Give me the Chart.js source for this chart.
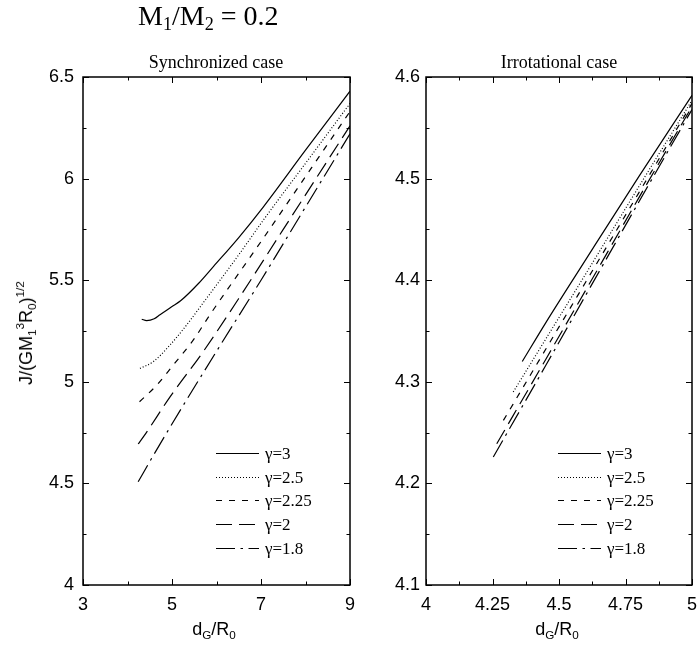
<!DOCTYPE html>
<html>
<head>
<meta charset="utf-8">
<script src="https://cdn.jsdelivr.net/npm/chart.js@4.4.0/dist/chart.umd.min.js"></script>
<style>
  body { margin: 0; background: #fff; }
  #wrap { position: relative; width: 697px; height: 648px; overflow: hidden; }
  .box { position: absolute; top: 0; height: 648px; }
  .serif, .sans { position: absolute; white-space: nowrap; color: #000; line-height: 1; }
  .serif { font-family: "Liberation Serif", "Times New Roman", serif; }
  .sans { font-family: "Liberation Sans", Arial, sans-serif; }
  sub { font-size: 65%; vertical-align: -0.3em; line-height: 0; }
  sup { font-size: 65%; vertical-align: 0.65em; line-height: 0; }
</style>
</head>
<body>
<div id="wrap">
  <div class="box" style="left:0;width:360px"><canvas id="syncChart" width="360" height="648"></canvas></div>
  <div class="box" style="left:360px;width:337px"><canvas id="irrChart" width="337" height="648"></canvas></div>

  <div class="serif" style="font-size:28px;left:138px;top:2px">M<sub>1</sub>/M<sub>2</sub> = 0.2</div>
  <div class="serif" style="font-size:18px;left:216px;top:53px;transform:translateX(-50%)">Synchronized case</div>
  <div class="serif" style="font-size:18px;left:559px;top:53px;transform:translateX(-50%)">Irrotational case</div>
  <div class="sans" style="font-size:18px;left:214px;top:620px;transform:translateX(-50%)">d<sub>G</sub>/R<sub>0</sub></div>
  <div class="sans" style="font-size:18px;left:557px;top:620px;transform:translateX(-50%)">d<sub>G</sub>/R<sub>0</sub></div>
  <div class="sans" style="font-size:18px;left:26px;top:333px;transform:translate(-50%,-50%) rotate(-90deg)">J/(GM<sub>1</sub><sup>3</sup>R<sub>0</sub>)<sup>1/2</sup></div>
</div>

<script>
// series labels
const gammaLabels = ['γ=3', 'γ=2.5', 'γ=2.25', 'γ=2', 'γ=1.8'];

// Synchronized case (d_G/R_0 , J)
const syncG3X   = [4.32, 4.43, 4.6, 4.73, 5.0, 5.2, 5.6, 5.93, 6.5, 7.05, 8.0, 9.0];
const syncG3Y   = [5.308, 5.301, 5.31, 5.33, 5.37, 5.40, 5.485, 5.567, 5.71, 5.86, 6.14, 6.43];
const syncG25X  = [4.28, 4.58, 4.955, 5.33, 5.74, 6.5, 7.05, 8.0, 9.0];
const syncG25Y  = [5.066, 5.099, 5.181, 5.28, 5.40, 5.625, 5.795, 6.075, 6.37];
const syncG225X = [4.27, 4.66, 5.03, 5.48, 5.85, 7.0, 8.0, 9.0];
const syncG225Y = [4.902, 4.984, 5.083, 5.206, 5.329, 5.69, 6.01, 6.33];
const syncG2X   = [4.24, 4.36, 4.96, 5.70, 6.5, 7.5, 9.0];
const syncG2Y   = [4.694, 4.73, 4.927, 5.148, 5.41, 5.75, 6.26];
const syncG18X  = [4.24, 4.6, 5.2, 6.0, 7.0, 8.0, 9.0];
const syncG18Y  = [4.508, 4.645, 4.865, 5.15, 5.50, 5.86, 6.22];

// Irrotational case
const irrG3X   = [4.362, 4.45, 4.6, 4.8, 5.0];
const irrG3Y   = [4.320, 4.358, 4.420, 4.502, 4.582];
const irrG25X  = [4.328, 4.45, 4.6, 4.8, 5.0];
const irrG25Y  = [4.290, 4.342, 4.406, 4.492, 4.577];
const irrG225X = [4.291, 4.45, 4.6, 4.8, 5.0];
const irrG225Y = [4.262, 4.332, 4.398, 4.486, 4.574];
const irrG2X   = [4.266, 4.45, 4.6, 4.8, 5.0];
const irrG2Y   = [4.239, 4.322, 4.390, 4.481, 4.571];
const irrG18X  = [4.253, 4.45, 4.6, 4.8, 5.0];
const irrG18Y  = [4.226, 4.316, 4.385, 4.477, 4.568];

// tick labels
const syncXTicks = [3, 5, 7, 9];
const syncYTicks = [4, 4.5, 5, 5.5, 6, 6.5];
const irrXTicks  = [4, 4.25, 4.5, 4.75, 5];
const irrYTicks  = [4.1, 4.2, 4.3, 4.4, 4.5, 4.6];

const dashes = [[], [1, 2], [6, 7], [16, 7], [19, 5.5, 2.5, 5.5]];

function pts(xs, ys) {
  return xs.map((v, i) => ({ x: v, y: ys[i] }));
}

function makeSets(series) {
  return series.map((s, i) => ({
    label: gammaLabels[i],
    data: pts(s[0], s[1]),
    borderColor: '#000',
    borderWidth: 1.2,
    borderDash: dashes[i],
    pointRadius: 0,
    showLine: true,
    fill: false,
    cubicInterpolationMode: 'monotone'
  }));
}

// box around plot + inward ticks on all four sides
const frameTicks = {
  id: 'frameTicks',
  afterDatasetsDraw(chart) {
    const { ctx, chartArea: a, scales } = chart;
    ctx.save();
    ctx.strokeStyle = '#000';
    ctx.lineWidth = 1;
    const xv = scales.x.ticks.map(t => t.value);
    const yv = scales.y.ticks.map(t => t.value);
    const withMinor = (v) => {
      const out = [];
      v.forEach((t, i) => {
        out.push([t, 6]);
        if (i < v.length - 1) out.push([(t + v[i + 1]) / 2, 3.5]);
      });
      return out;
    };
    ctx.beginPath();
    withMinor(xv).forEach(([v, len]) => {
      const p = Math.round(scales.x.getPixelForValue(v)) + 0.5;
      ctx.moveTo(p, a.bottom); ctx.lineTo(p, a.bottom - len);
      ctx.moveTo(p, a.top); ctx.lineTo(p, a.top + len);
    });
    withMinor(yv).forEach(([v, len]) => {
      const p = Math.round(scales.y.getPixelForValue(v)) + 0.5;
      ctx.moveTo(a.left, p); ctx.lineTo(a.left + len, p);
      ctx.moveTo(a.right, p); ctx.lineTo(a.right - len, p);
    });
    ctx.stroke();
    ctx.lineWidth = 1.5;
    ctx.strokeRect(a.left, a.top, a.right - a.left, a.bottom - a.top);
    ctx.restore();
  }
};

// key drawn inside the plot, lower right
const insideLegend = {
  id: 'insideLegend',
  afterDraw(chart) {
    const { ctx, chartArea: a } = chart;
    ctx.save();
    ctx.font = '17px "Liberation Serif"';
    ctx.textBaseline = 'middle';
    ctx.fillStyle = '#000';
    ctx.strokeStyle = '#000';
    chart.data.datasets.forEach((ds, i) => {
      const yy = Math.round(a.bottom - 132 + i * 23.7) + 0.5;
      ctx.setLineDash(ds.borderDash);
      ctx.lineWidth = ds.borderWidth;
      ctx.beginPath();
      ctx.moveTo(a.right - 134, yy);
      ctx.lineTo(a.right - 91, yy);
      ctx.stroke();
      ctx.setLineDash([]);
      ctx.fillText(ds.label, a.right - 85, yy + 1);
    });
    ctx.restore();
  }
};

function makeChart(id, series, xTicks, yTicks, pad, yWidth, yPad) {
  return new Chart(id, {
    type: 'scatter',
    data: { datasets: makeSets(series) },
    plugins: [frameTicks, insideLegend],
    options: {
      responsive: false,
      animation: false,
      layout: { padding: pad },
      plugins: { legend: { display: false }, tooltip: { enabled: false } },
      scales: {
        x: {
          type: 'linear',
          min: xTicks[0],
          max: xTicks[xTicks.length - 1],
          afterBuildTicks: s => { s.ticks = xTicks.map(v => ({ value: v })); },
          afterFit: s => { s.height = 50; s.paddingLeft = 0; s.paddingRight = 0; },
          grid: { display: false, drawTicks: false },
          border: { display: false },
          ticks: {
            color: '#000',
            padding: 9,
            maxRotation: 0,
            autoSkip: false,
            font: { family: 'Liberation Sans', size: 18 },
            callback: v => String(v)
          }
        },
        y: {
          type: 'linear',
          min: yTicks[0],
          max: yTicks[yTicks.length - 1],
          afterBuildTicks: s => { s.ticks = yTicks.map(v => ({ value: v })); },
          afterFit: s => { s.width = yWidth; s.paddingTop = 0; s.paddingBottom = 0; },
          grid: { display: false, drawTicks: false },
          border: { display: false },
          ticks: {
            color: '#000',
            padding: yPad,
            autoSkip: false,
            font: { family: 'Liberation Sans', size: 18 },
            callback: v => String(v)
          }
        }
      }
    }
  });
}

makeChart('syncChart', [
  [syncG3X, syncG3Y], [syncG25X, syncG25Y], [syncG225X, syncG225Y],
  [syncG2X, syncG2Y], [syncG18X, syncG18Y]
], syncXTicks, syncYTicks, { left: 0, right: 10, top: 77, bottom: 13 }, 83, 9);

makeChart('irrChart', [
  [irrG3X, irrG3Y], [irrG25X, irrG25Y], [irrG225X, irrG225Y],
  [irrG2X, irrG2Y], [irrG18X, irrG18Y]
], irrXTicks, irrYTicks, { left: 16, right: 5, top: 77, bottom: 13 }, 50, 6);
</script>
</body>
</html>
